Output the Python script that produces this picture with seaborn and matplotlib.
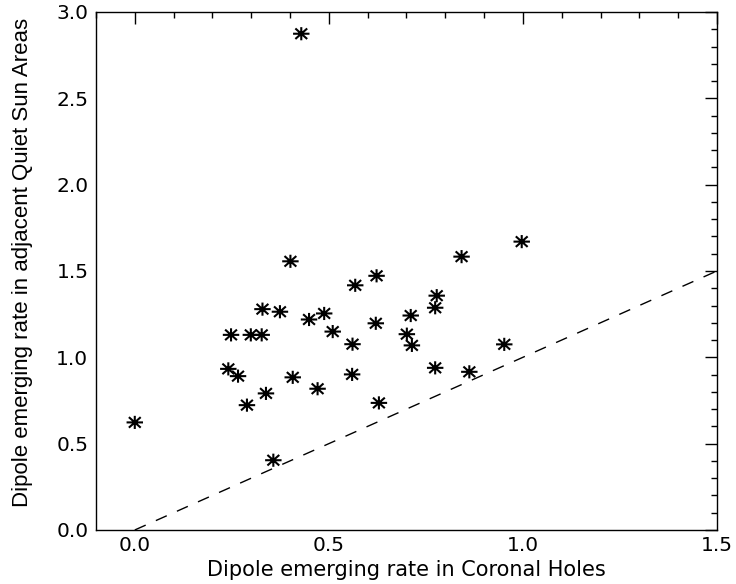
import numpy as np
import matplotlib
matplotlib.use("Agg")
import matplotlib.pyplot as plt
from matplotlib.path import Path
from matplotlib.ticker import MultipleLocator
import seaborn as sns

# emerging rates
rate_ch = [0.000, 0.429, 0.401, 0.568, 0.623, 0.842, 0.778, 0.774, 0.329, 0.374,
           0.449, 0.488, 0.510, 0.621, 0.711, 0.248, 0.299, 0.327, 0.701, 0.714,
           0.561, 0.241, 0.266, 0.407, 0.560, 0.338, 0.471, 0.289, 0.629, 0.774,
           0.952, 0.862, 0.357, 0.997]
rate_qs = [0.623, 2.874, 1.556, 1.417, 1.472, 1.583, 1.357, 1.287, 1.279, 1.264,
           1.219, 1.254, 1.149, 1.197, 1.242, 1.130, 1.130, 1.130, 1.134, 1.069,
           1.076, 0.933, 0.891, 0.884, 0.901, 0.791, 0.818, 0.723, 0.736, 0.939,
           1.075, 0.916, 0.404, 1.670]
diag = [0.0, 1.5]

x_ticks = [0.0, 0.5, 1.0, 1.5]
y_ticks = [0.0, 0.5, 1.0, 1.5, 2.0, 2.5, 3.0]

# IDL style asterisk, a bit wider than tall
star = Path([(-1.25, 0), (1.25, 0), (0, -1), (0, 1),
             (-0.9, -0.8), (0.9, 0.8), (-0.9, 0.8), (0.9, -0.8)],
            [Path.MOVETO, Path.LINETO] * 4)

sns.set_style("white")
plt.rcParams["font.family"] = ["DejaVu Sans"]
plt.rcParams["text.color"] = "black"
plt.rcParams["axes.labelcolor"] = "black"
plt.rcParams["xtick.color"] = "black"
plt.rcParams["ytick.color"] = "black"

fig = plt.figure(figsize=(7.36, 5.84), dpi=100)
ax = fig.add_axes([0.1304, 0.0925, 0.8437, 0.887])

sns.scatterplot(x=rate_ch, y=rate_qs, marker=star, s=140, color="black",
                edgecolor="black", facecolor="none", linewidth=1.5,
                ax=ax, legend=False)
sns.lineplot(x=diag, y=diag, color="black", linewidth=1.0, ax=ax)
ax.lines[-1].set_dashes([8.6, 8.0])

ax.set_xlim(-0.1, 1.5)
ax.set_ylim(0.0, 3.0)
ax.set_xticks(x_ticks)
ax.set_yticks(y_ticks)
ax.set_xticklabels([f"{v:.1f}" for v in x_ticks])
ax.set_yticklabels([f"{v:.1f}" for v in y_ticks])
ax.xaxis.set_minor_locator(MultipleLocator(0.1))
ax.yaxis.set_minor_locator(MultipleLocator(0.1))
ax.tick_params(which="both", direction="in", top=True, right=True,
               labelsize=14.5, color="black", labelcolor="black", width=1)
ax.tick_params(which="major", length=8.6)
ax.tick_params(which="minor", length=4.3)
ax.tick_params(axis="x", which="major", pad=4.5)
ax.tick_params(axis="y", which="major", pad=5.5)
for sp in ax.spines.values():
    sp.set_color("black")
    sp.set_linewidth(1.0)

ax.set_xlabel("Dipole emerging rate in Coronal Holes", fontsize=15,
              color="black")
ax.xaxis.set_label_coords(0.5, -0.0585)
ax.set_ylabel("Dipole emerging rate in adjacent Quiet Sun Areas", fontsize=16,
              family=["Liberation Sans", "DejaVu Sans"], color="black")
ax.yaxis.set_label_coords(-0.1015, 0.517)

plt.savefig("out.png", dpi=100)
